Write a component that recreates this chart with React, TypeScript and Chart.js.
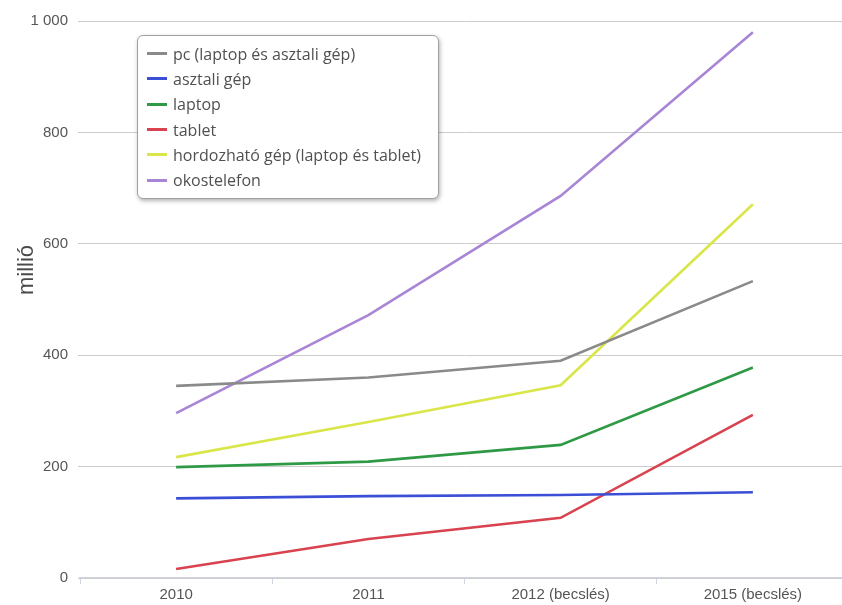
import React, { useEffect, useRef } from "react";
import { Chart, registerables } from "chart.js";

Chart.register(...registerables);

const categories = ["2010", "2011", "2012 (becslés)", "2015 (becslés)"];
const yTicks = [0, 200, 400, 600, 800, 1000];
const yTitle = "millió";

const seriesNames = [
  "pc (laptop és asztali gép)",
  "asztali gép",
  "laptop",
  "tablet",
  "hordozható gép (laptop és tablet)",
  "okostelefon",
];
const seriesColors = ["#8a8a8a", "#3b4fd6", "#2f9a45", "#d8434f", "#d9e64a", "#a985d6"];

const pc = [345, 360, 390, 533];
const asztali = [143, 147, 149, 154];
const laptop = [199, 209, 239, 378];
const tablet = [16, 70, 108, 293];
const hordozhato = [217, 280, 346, 671];
const okostelefon = [296, 472, 686, 980];

const seriesValues = [pc, asztali, laptop, tablet, hordozhato, okostelefon];

const fmt = (v: number) => (v >= 1000 ? String(v).replace(/\B(?=(\d{3})+(?!\d))/g, " ") : String(v));

export default function App() {
  const ref = useRef<HTMLCanvasElement | null>(null);

  useEffect(() => {
    if (!ref.current) return;
    const titlePlugin = {
      id: "yTitle",
      afterDraw(chart: any) {
        const { ctx, chartArea } = chart;
        ctx.save();
        ctx.font = "22px 'Liberation Sans', Arial, sans-serif";
        ctx.fillStyle = "#4a4a4a";
        ctx.textAlign = "center";
        ctx.textBaseline = "middle";
        ctx.translate(27, chartArea.top + chartArea.height * 0.447);
        ctx.rotate(-Math.PI / 2);
        ctx.fillText(yTitle, 0, 0);
        ctx.restore();
      },
    };
    const chart = new Chart(ref.current, {
      type: "line",
      data: {
        labels: categories,
        datasets: seriesNames.map((name, i) => ({
          label: name,
          data: seriesValues[i],
          borderColor: seriesColors[i],
          backgroundColor: seriesColors[i],
          borderWidth: 2.6,
          pointRadius: 0,
          tension: 0,
          fill: false,
        })),
      },
      options: {
        animation: false,
        responsive: false,
        maintainAspectRatio: false,
        layout: { padding: { top: 21, right: 11, bottom: 0, left: 0 } },
        plugins: { legend: { display: false }, tooltip: { enabled: false } },
        scales: {
          x: {
            offset: true,
            afterFit: (s: any) => {
              s.height = 27;
            },
            grid: {
              display: true,
              drawOnChartArea: false,
              drawTicks: true,
              tickLength: 6,
              color: "#d0d4e0",
              offset: true,
            },
            border: { display: true, color: "#cfd2da", width: 1.5 },
            ticks: {
              color: "#555",
              padding: 2,
              font: { family: "'Liberation Sans', Arial, sans-serif", size: 15 },
              maxRotation: 0,
            },
          },
          y: {
            min: 0,
            max: 1000,
            afterFit: (s: any) => {
              s.width = 80;
            },
            afterBuildTicks: (s: any) => {
              s.ticks = yTicks.map((v) => ({ value: v }));
            },
            grid: { color: "#cccccc", tickLength: 2, drawTicks: true },
            border: { display: false },
            ticks: {
              color: "#555",
              padding: 10,
              font: { family: "'Liberation Sans', Arial, sans-serif", size: 15 },
              callback: (v: any) => fmt(Number(v)),
            },
          },
        },
      },
      plugins: [titlePlugin],
    });
    return () => chart.destroy();
  }, []);

  return (
    <div style={{ position: "fixed", left: 0, top: 0, width: 842, height: 605, overflow: "hidden", background: "#fff" }}>
      <canvas ref={ref} width={860} height={605} style={{ display: "block", width: 860, height: 605 }} />
      <div
        style={{
          position: "absolute",
          left: 137,
          top: 35,
          width: 302,
          height: 164,
          boxSizing: "border-box",
          border: "1px solid #a0a0a0",
          borderRadius: 6,
          background: "#fff",
          boxShadow: "1px 2px 4px rgba(0,0,0,0.3)",
          padding: "5px 0 0 9px",
          fontFamily: "'Open Sans', sans-serif",
          fontSize: 16,
          color: "#505050",
        }}
      >
        {seriesNames.map((name, i) => (
          <div key={name} style={{ display: "flex", alignItems: "center", height: 25.3, whiteSpace: "nowrap" }}>
            <span
              style={{
                display: "inline-block",
                width: 20,
                height: 3,
                background: seriesColors[i],
                marginRight: 6,
              }}
            />
            <span>{name}</span>
          </div>
        ))}
      </div>
    </div>
  );
}
